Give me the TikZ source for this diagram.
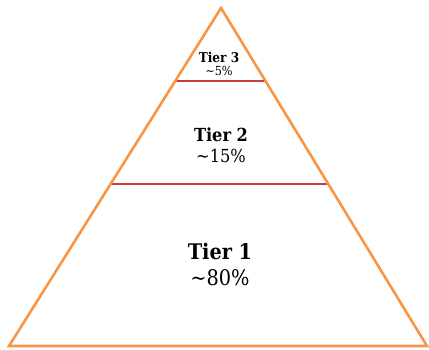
\documentclass[tikz,border=0pt]{standalone}
\usepackage{fontspec}
\setmainfont{DejaVu Serif Condensed}
\usetikzlibrary{calc}
\definecolor{pyrorange}{RGB}{247,150,70}
\definecolor{pyrred}{RGB}{196,62,62}
\tikzset{
  borde/.style={draw=pyrorange,line width=2.6pt,line join=miter},
  corte/.style={draw=pyrred,line width=1.1pt},
  titulo/.style={align=center,inner sep=0pt},
}
\begin{document}
\begin{tikzpicture}[x=1pt,y=-1pt]
    \useasboundingbox (0,0) rectangle (429,349);
    \coordinate (top) at (221,8);
    \coordinate (bl) at (9,346);
    \coordinate (br) at (427,346);
    % divisiones entre niveles
    \coordinate (c3l) at ($(top)!73/338!(bl)$);
    \coordinate (c3r) at ($(top)!73/338!(br)$);
    \coordinate (c2l) at ($(top)!176/338!(bl)$);
    \coordinate (c2r) at ($(top)!176/338!(br)$);
    \draw[corte] (c3l) -- (c3r);
    \draw[corte] (c2l) -- (c2r);
    \draw[borde] (top) -- (br) -- (bl) -- cycle;
    \node[titulo,font=\fontsize{13.5}{14}\selectfont] (t3) at (219,64)
      {\textbf{Tier 3}\\[-1pt]{\fontsize{12.5}{12.5}\selectfont\textasciitilde5\%}};
    \node[titulo,font=\fontsize{18}{19}\selectfont] (t2) at (221,145)
      {\textbf{Tier 2}\\[2pt]\textasciitilde15\%};
    \node[titulo,font=\fontsize{21.5}{23}\selectfont] (t1) at (220,264)
      {\textbf{Tier 1}\\[3pt]\textasciitilde80\%};
\end{tikzpicture}
\end{document}
